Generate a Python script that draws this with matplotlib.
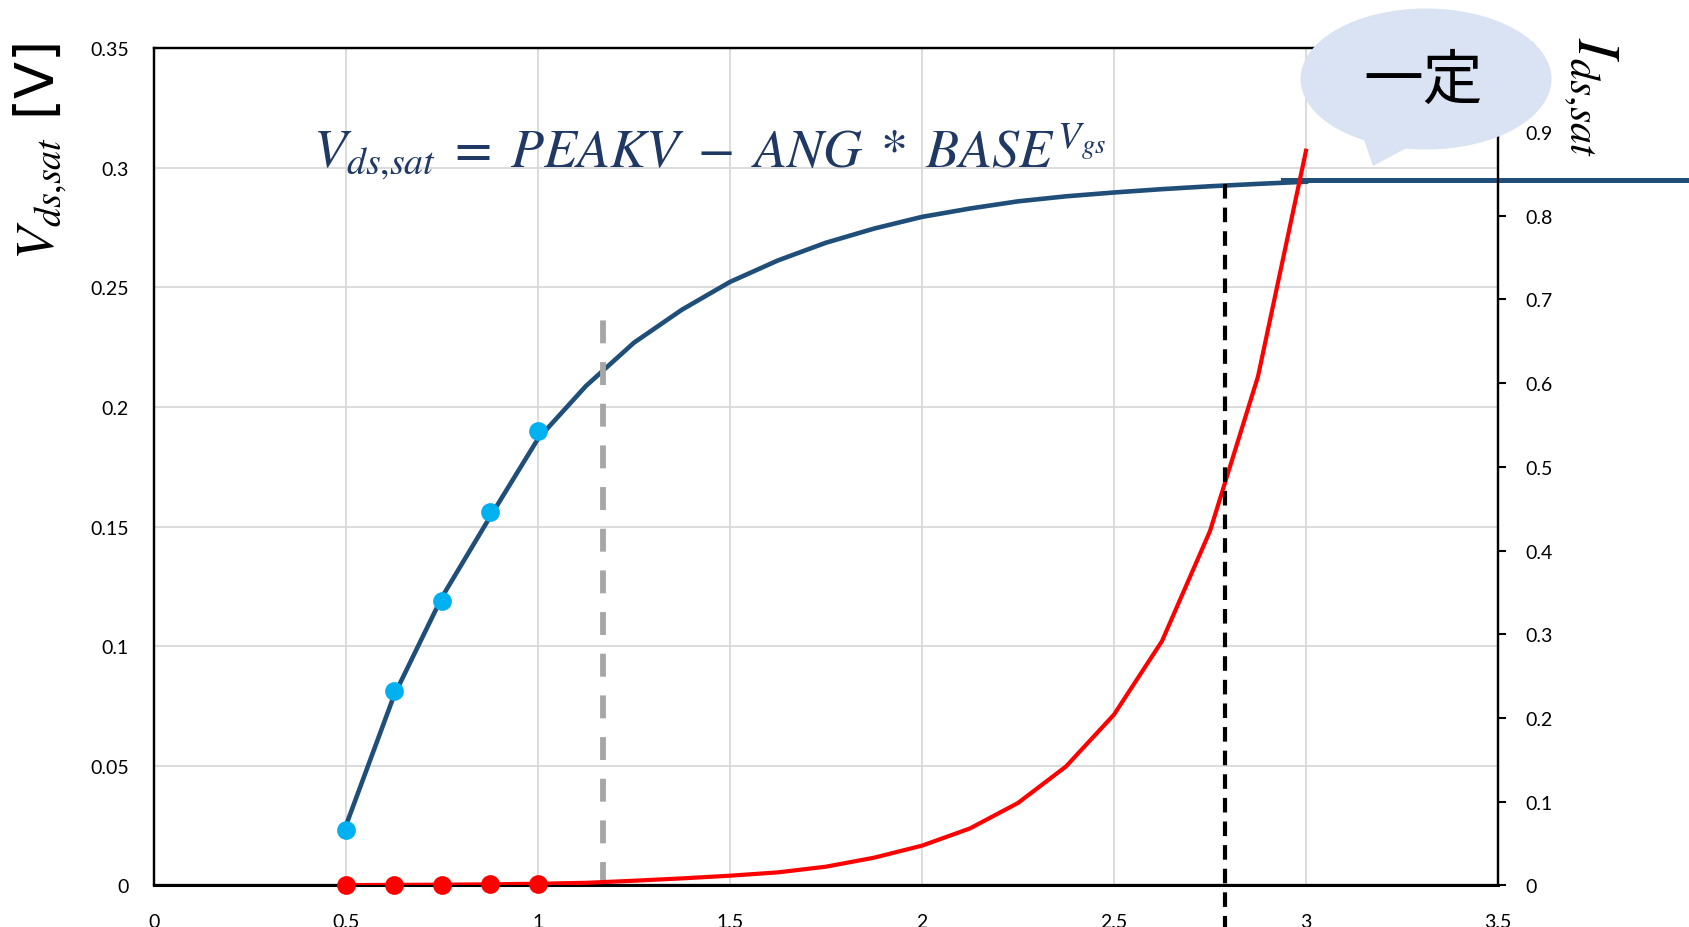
import matplotlib.pyplot as plt
from matplotlib.patches import Ellipse, Polygon
from matplotlib.ticker import FixedLocator, FuncFormatter

plt.rcParams["font.family"] = ["Lato", "DejaVu Sans"]
plt.rcParams["mathtext.fontset"] = "stix"
plt.rcParams["lines.scale_dashes"] = False

# measured points (Vgs -> Vds,sat and Ids,sat)
VGS_MEAS = [0.5, 0.625, 0.75, 0.875, 1.0]
VDS_MEAS = [0.0233, 0.0813, 0.1188, 0.1559, 0.190]
IDS_MEAS = [0.0003, 0.0005, 0.0008, 0.0012, 0.0019]

# fitted Vds,sat curve (left axis)
VGS_FIT = [0.5, 0.625, 0.75, 0.875, 1.0, 1.125, 1.25, 1.375, 1.5, 1.625,
           1.75, 1.875, 2.0, 2.125, 2.25, 2.375, 2.5, 2.625, 2.75, 2.875, 3.0]
VDS_FIT = [0.025, 0.0793, 0.1205, 0.154, 0.1867, 0.2088, 0.2269, 0.2407,
           0.2523, 0.2613, 0.2687, 0.2746, 0.2795, 0.283, 0.286, 0.2881,
           0.2897, 0.2911, 0.2923, 0.2933, 0.2942]

# Ids,sat curve (right axis)
IDS_FIT = [0.0003, 0.0005, 0.0008, 0.0012, 0.0019, 0.003, 0.0055, 0.0083,
           0.0115, 0.0155, 0.0223, 0.033, 0.0474, 0.068, 0.0984, 0.142,
           0.204, 0.2918, 0.4233, 0.608, 0.8776]

# constant saturation level, and the two marker lines
SAT_X = [2.94, 4.0]
SAT_V = 0.2948
GREY_X = 1.17
GREY_TOP = 0.2383
BLACK_X = 2.79
BLACK_TOP = 0.2934
BLACK_BOTTOM = -0.0175

X_TICKS = [0, 0.5, 1, 1.5, 2, 2.5, 3, 3.5]
Y_TICKS = [0, 0.05, 0.1, 0.15, 0.2, 0.25, 0.3, 0.35]
Y2_TICKS = [0, 0.1, 0.2, 0.3, 0.4, 0.5, 0.6, 0.7, 0.8, 0.9, 1.0]

NAVY = "#1F4E79"
TEXT_NAVY = "#1F3864"


def fmt(v, _pos=None):
    return f"{v:g}"


fig = plt.figure(figsize=(16.9, 9.28), dpi=100)
ax = fig.add_axes([0.0911, 0.0449, 0.7953, 0.9020])
ax2 = ax.twinx()

ax.set_xlim(0, 3.5)
ax.set_ylim(0, 0.35)
ax2.set_ylim(0, 1.0)

ax.xaxis.set_major_locator(FixedLocator(X_TICKS))
ax.yaxis.set_major_locator(FixedLocator(Y_TICKS))
ax2.yaxis.set_major_locator(FixedLocator(Y2_TICKS))
for a in (ax.xaxis, ax.yaxis, ax2.yaxis):
    a.set_major_formatter(FuncFormatter(fmt))

ax.grid(True, color="#D9D9D9", lw=1.3)
ax.set_axisbelow(True)
ax.tick_params(axis="both", length=0, labelsize=14, pad=18)
ax.tick_params(axis="x", pad=20)
ax2.tick_params(axis="y", length=6, width=1.5, labelsize=14, pad=14, direction="out")

for a in (ax, ax2):
    for s in a.spines.values():
        s.set_color("black")
        s.set_linewidth(1.6)
ax.spines["bottom"].set_linewidth(2.2)

# curves
ax.plot(VGS_FIT, VDS_FIT, color=NAVY, lw=3.3, zorder=3)
ax.plot(SAT_X, [SAT_V, SAT_V], color=NAVY, lw=3.6, clip_on=False, zorder=3)
ax.plot(VGS_MEAS, VDS_MEAS, "o", color="#00B0F0", ms=13.5, mec="none", zorder=4)

ax2.plot(VGS_FIT, IDS_FIT, color="#FF0000", lw=3.0, zorder=3)
ax2.plot(VGS_MEAS, IDS_MEAS, "o", color="#FF0000", ms=13.5, mec="none",
         clip_on=False, zorder=4)

ax.plot([GREY_X, GREY_X], [0, GREY_TOP], color="#A6A6A6", lw=4.2,
        ls=(0, (16.5, 13.5)), zorder=5)
ax2.plot([BLACK_X, BLACK_X],
         [BLACK_TOP / 0.35, BLACK_BOTTOM / 0.35], color="black", lw=3.0,
         ls=(0, (10.5, 6.5)), clip_on=False, zorder=6)

# formula
fig.text(313 / 1690, 1 - 167 / 928,
         r"$V_{ds{,}sat}\;=\;PEAKV\;-\;ANG\;*\;BASE^{V_{gs}}$",
         fontsize=39, color=TEXT_NAVY, ha="left", va="baseline")

# axis labels
fig.text(40 / 1690, 1 - 43 / 928, r"$V_{ds{,}sat}$ [V]", fontsize=39,
         rotation=90, ha="center", va="top",
         family=["DejaVu Sans"])
fig.text(1591 / 1690, 1 - 37 / 928, r"$I_{ds{,}sat}$", fontsize=43,
         rotation=-90, ha="center", va="top")

# speech bubble
bubble_color = "#DAE3F3"
fig.patches.append(Ellipse((1426 / 1690, 1 - 80 / 928), 251 / 1690, 141 / 928,
                           transform=fig.transFigure, fc=bubble_color,
                           ec="none", zorder=10))
fig.patches.append(Polygon([(1362 / 1690, 1 - 135 / 928),
                            (1373 / 1690, 1 - 167 / 928),
                            (1412 / 1690, 1 - 146 / 928)],
                           closed=True, transform=fig.transFigure,
                           fc=bubble_color, ec="none", zorder=10))
fig.text(1423 / 1690, 1 - 82 / 928, "一定", fontsize=43,
         family=["Noto Sans CJK JP", "DejaVu Sans"], ha="center",
         va="center", zorder=11)

fig.savefig("out.png", dpi=100, facecolor="white")
